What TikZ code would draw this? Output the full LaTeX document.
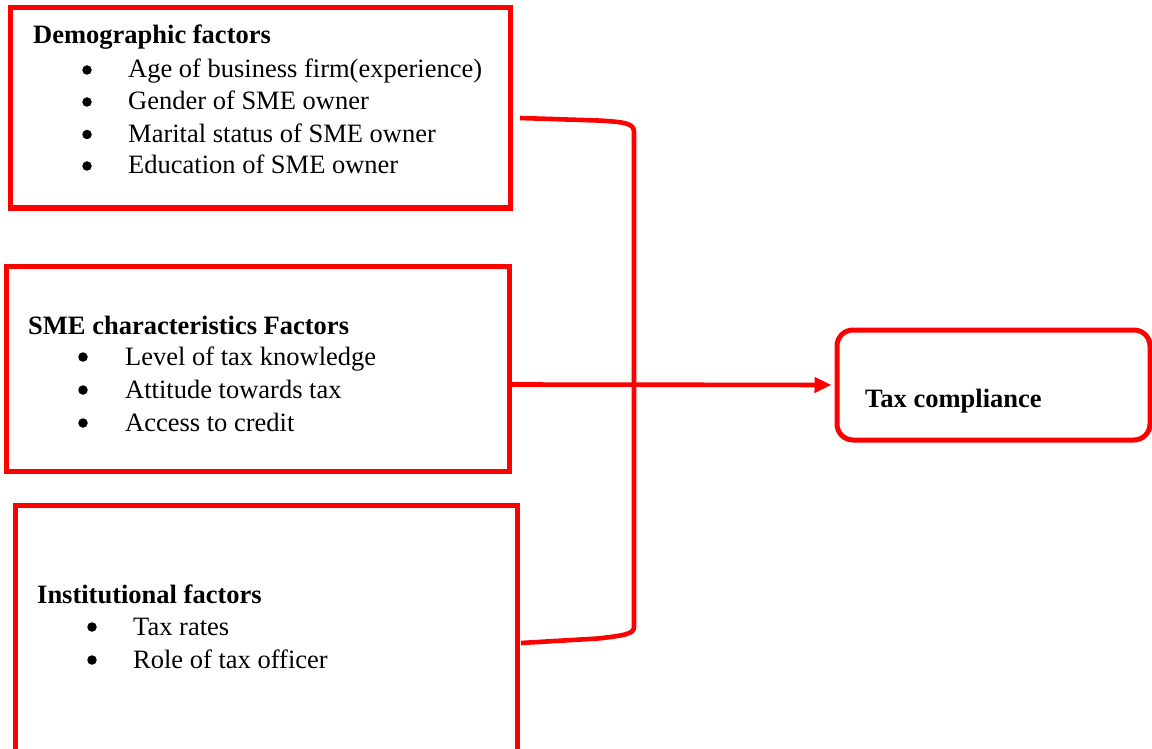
\documentclass[tikz,border=0pt]{standalone}
\usepackage{fontspec}
\setmainfont{Liberation Serif}
\usetikzlibrary{arrows.meta,calc}
\definecolor{boxred}{RGB}{255,0,0}
\tikzset{
  frame/.style={draw=boxred, line width=5pt, inner sep=0pt},
  txt/.style={anchor=base west, inner sep=0pt, font=\fontsize{26.5}{32}\selectfont},
  ttl/.style={anchor=base west, inner sep=0pt, font=\fontsize{26.5}{32}\selectfont\bfseries},
  bul/.style={circle, fill=black, inner sep=0pt, minimum size=9.5pt},
  link/.style={draw=boxred, line width=4.6pt},
}
\begin{document}
\begin{tikzpicture}[x=1pt,y=-1pt]
\useasboundingbox (0,0) rectangle (1152,749);
\begin{scope}
\clip (0,0) rectangle (1152,749);
% boxes
\node[frame, minimum width=500pt, minimum height=200pt] (demo) at (260.5,108) {};
\node[frame, minimum width=503pt, minimum height=205pt] (sme) at (258,368.5) {};
\node[frame, minimum width=502pt, minimum height=260pt] (inst) at (266.5,635) {};
\node[frame, rounded corners=16pt, minimum width=313pt, minimum height=110pt] (tax) at (993.5,385) {};

% demographic text
\node[ttl] (d0) at (33,44) {Demographic factors};
\node[bul] (d1b) at (87,70) {};
\node[txt] (d1) at (128,78) {Age of business firm(experience)};
\node[bul] (d2b) at (87,102) {};
\node[txt] (d2) at (128,110) {Gender of SME owner};
\node[bul] (d3b) at (87,134.5) {};
\node[txt] (d3) at (128,142.5) {Marital status of SME owner};
\node[bul] (d4b) at (87,166) {};
\node[txt] (d4) at (128,174) {Education of SME owner};

% SME text
\node[ttl] (s0) at (28,334) {SME characteristics Factors};
\node[bul] (s1b) at (83,357) {};
\node[txt] (s1) at (125,365) {Level of tax knowledge};
\node[bul] (s2b) at (83,390) {};
\node[txt] (s2) at (125,398) {Attitude towards tax};
\node[bul] (s3b) at (83,423) {};
\node[txt] (s3) at (125,431) {Access to credit};

% institutional text
\node[ttl] (i0) at (37,603) {Institutional factors};
\node[bul] (i1b) at (92,627) {};
\node[txt] (i1) at (133,635) {Tax rates};
\node[bul] (i2b) at (92,660) {};
\node[txt] (i2) at (133,668) {Role of tax officer};

% tax compliance text
\node[ttl] (t0) at (865,407) {Tax compliance};

% bracket
\coordinate (btop) at ($(demo.east)+(7,10)$);
\coordinate (bbot) at ($(inst.east)+(1,8)$);
\draw[link, line cap=butt] (btop) -- (598,120.5) .. controls (624,122) and (634,123) .. (634,132)
  -- (634,627) .. controls (634,634) and (624,635.5) .. (598,638.5) -- (bbot);

% arrow
\draw[link, -{Triangle[length=17pt,width=15pt]}, shorten >=3pt]
  ($(sme.east)+(0,16)$) -- (tax.west);
\end{scope}
\end{tikzpicture}
\end{document}
